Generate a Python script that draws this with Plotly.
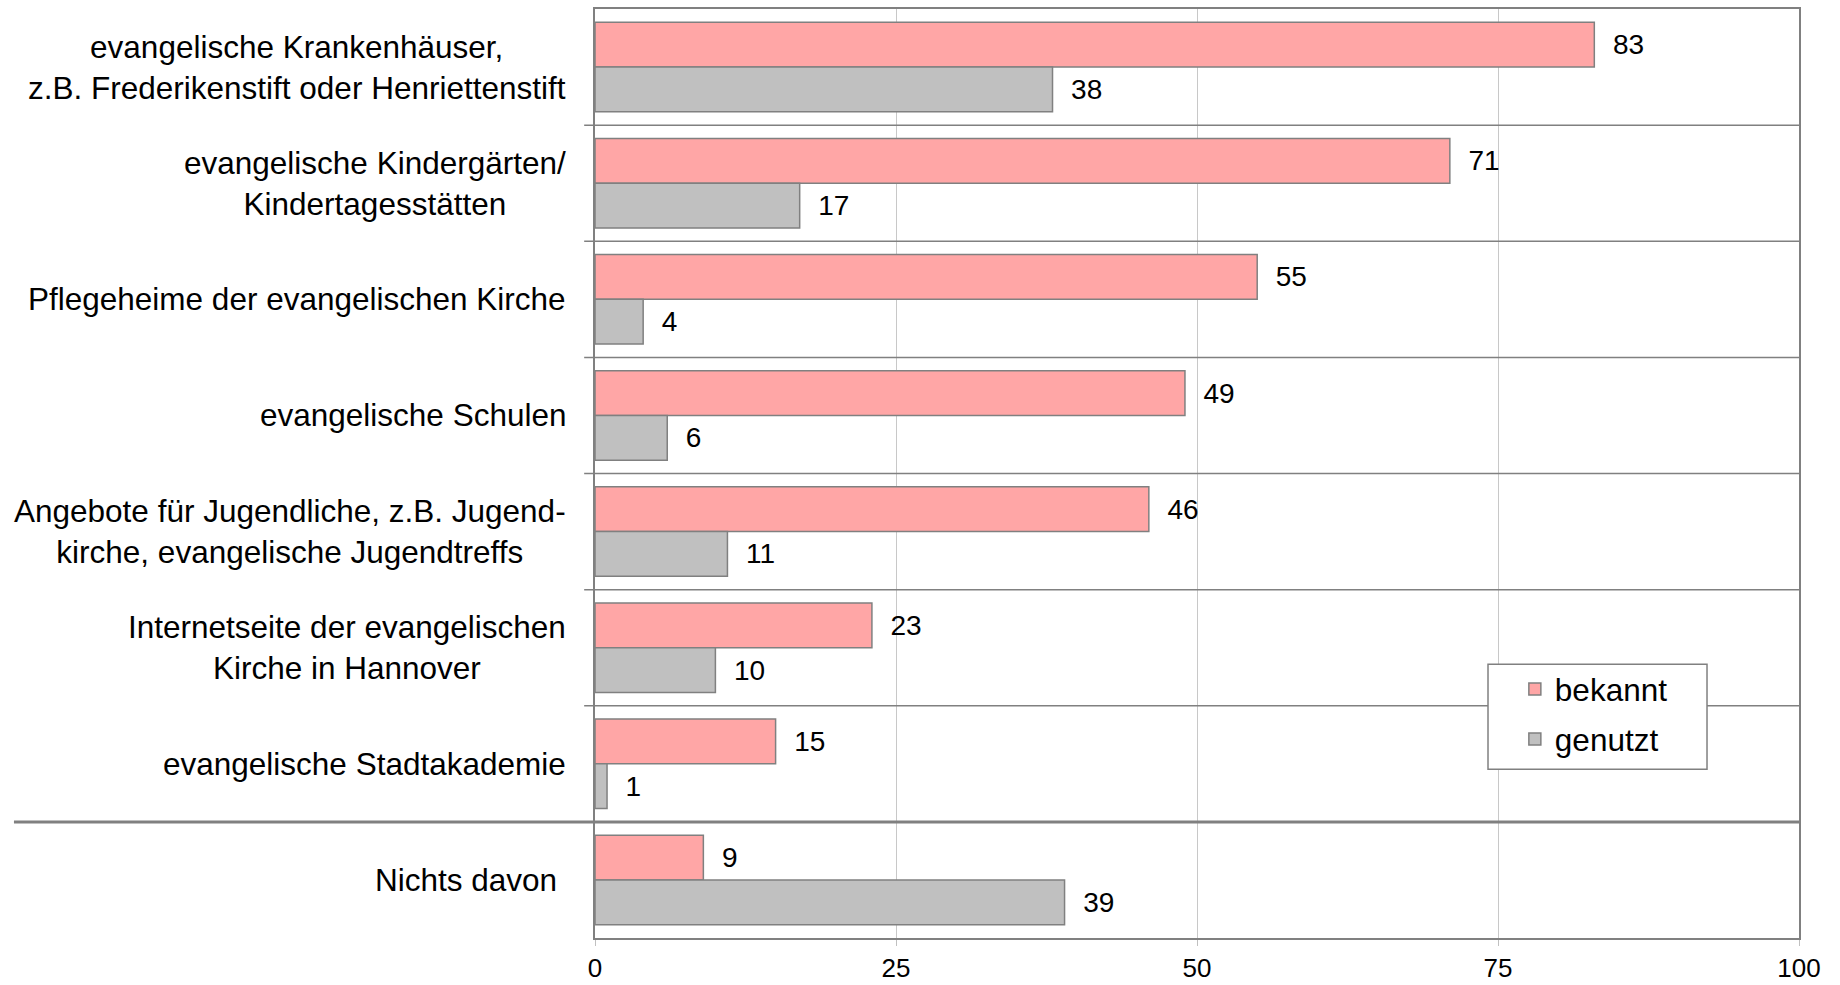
import plotly.graph_objects as go

categories = [
    "evangelische Krankenhäuser,<br>z.B. Frederikenstift oder Henriettenstift",
    "evangelische Kindergärten/<br>Kindertagesstätten",
    "Pflegeheime der evangelischen Kirche",
    "evangelische Schulen",
    "Angebote für Jugendliche, z.B. Jugend-<br>kirche, evangelische Jugendtreffs",
    "Internetseite der evangelischen<br>Kirche in Hannover",
    "evangelische Stadtakademie",
    "Nichts davon\u00a0",
]
bekannt = [83, 71, 55, 49, 46, 23, 15, 9]
genutzt = [38, 17, 4, 6, 11, 10, 1, 39]
series_names = ["bekannt", "genutzt"]
x_ticks = [0, 25, 50, 75, 100]

FONT = "Liberation Sans, Arial, sans-serif"
PINK = "#FFA6A6"
GREY = "#C0C0C0"
EDGE = "#808080"

fig = go.Figure()
for name, vals, col, grp in [(series_names[0], bekannt, PINK, "a"), (series_names[1], genutzt, GREY, "b")]:
    fig.add_trace(go.Bar(
        y=categories, x=vals, name=name, orientation="h",
        marker=dict(color=col, line=dict(color=EDGE, width=1.5)),
        text=vals, texttemplate="\u00a0\u00a0%{x}", textposition="outside",
        textfont=dict(size=28, color="black", family=FONT),
        constraintext="none", cliponaxis=False, legendgroup=grp,
    ))

shapes = []
n = len(categories)
for i in range(n - 1):
    special = (i == n - 2)
    shapes.append(dict(
        type="line", xref="paper", yref="y",
        x0=-0.4826 if special else -0.009, x1=1,
        y0=i + 0.5, y1=i + 0.5,
        line=dict(color=EDGE, width=3 if special else 1.5),
        layer="above",
    ))
# legend box
shapes.append(dict(type="rect", xref="paper", yref="paper",
                   x0=0.7417, x1=0.9236, y0=0.1817, y1=0.2948,
                   fillcolor="white", line=dict(color=EDGE, width=1.5), layer="above"))

annotations = []
for c in categories:
    annotations.append(dict(
        x=-0.0225, xref="paper", y=c, yref="y", text=c, showarrow=False,
        xanchor="right", yanchor="middle", align="center",
        font=dict(size=31.5, color="black", family=FONT),
    ))

fig.update_layout(
    width=1840, height=985,
    margin=dict(l=595, r=41, t=9, b=47, autoexpand=False),
    paper_bgcolor="white", plot_bgcolor="white",
    barmode="group", bargap=0.23, bargroupgap=0,
    font=dict(family=FONT, color="black"),
    shapes=shapes, annotations=annotations,
    legend=dict(
        x=0.764, y=0.297, xanchor="left", yanchor="top",
        bgcolor="rgba(0,0,0,0)", borderwidth=0,
        font=dict(size=31.5, family=FONT, color="black"),
        tracegroupgap=6, traceorder="grouped",
    ),
    xaxis=dict(
        range=[0, 100], tickvals=x_ticks, ticktext=[str(t) for t in x_ticks],
        showgrid=True, gridcolor="#C8C8C8", gridwidth=1, zeroline=False,
        showline=True, linecolor=EDGE, linewidth=2, mirror=True,
        ticks="outside", ticklen=6, tickcolor="#C0C0C0",
        tickfont=dict(size=26, family=FONT, color="black"),
        ticklabelstandoff=0, automargin=False,
    ),
    yaxis=dict(
        categoryorder="array", categoryarray=categories, autorange="reversed",
        showticklabels=False, showgrid=False, zeroline=False,
        showline=True, linecolor=EDGE, linewidth=2, mirror=True, ticks="",
        automargin=False,
    ),
)

fig.write_html("out.html", config={"displayModeBar": False},
               post_script="document.body.style.margin='0px';")
